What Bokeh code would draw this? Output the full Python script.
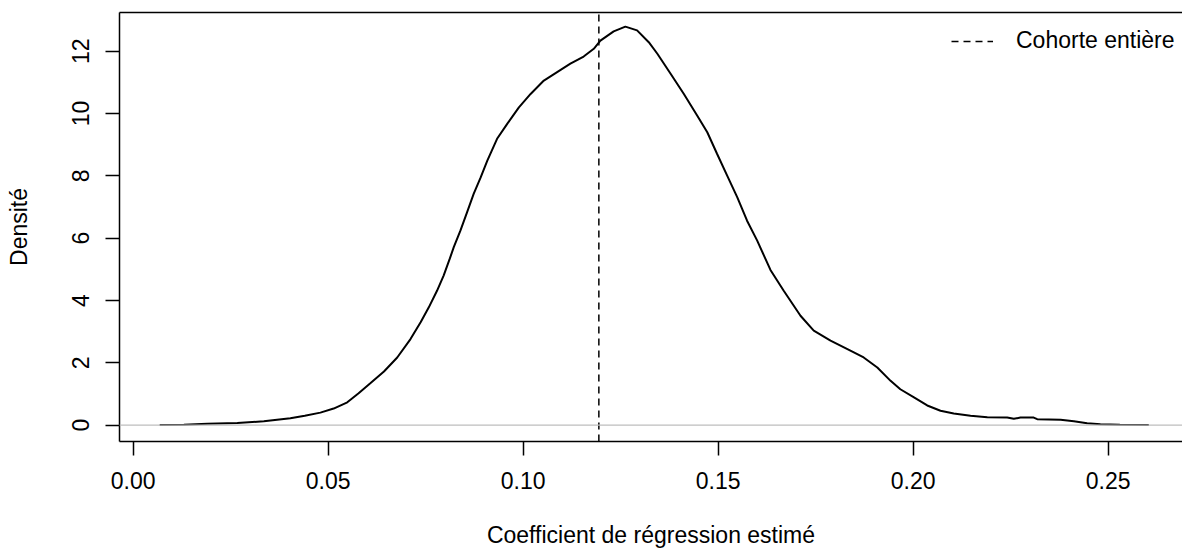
from bokeh.plotting import figure
from bokeh.models import Range1d, FixedTicker, PrintfTickFormatter, Span, Legend, LegendItem, LinearAxis
from bokeh.embed import file_html
from bokeh.resources import INLINE

# Estimated regression coefficient (x) and kernel density (y)
coef = [0.0068, 0.0130, 0.0190, 0.0267, 0.0335, 0.0403, 0.0440, 0.0480, 0.0514, 0.0549,
        0.0578, 0.0608, 0.0643, 0.0677, 0.0711, 0.0737, 0.0758, 0.0779, 0.0796, 0.0812,
        0.0822, 0.0839, 0.0856, 0.0873, 0.0891, 0.0908, 0.0933, 0.0959, 0.0989, 0.1019,
        0.1053, 0.1087, 0.1121, 0.1155, 0.1181, 0.1198, 0.1232, 0.1262, 0.1292, 0.1322,
        0.1344, 0.1378, 0.1412, 0.1446, 0.1472, 0.1497, 0.1523, 0.1549, 0.1574, 0.1600,
        0.1634, 0.1668, 0.1711, 0.1745, 0.1788, 0.1839, 0.1873, 0.1908, 0.1942, 0.1967,
        0.2002, 0.2036, 0.2070, 0.2104, 0.2147, 0.2190, 0.2241, 0.2258, 0.2275, 0.2309,
        0.2318, 0.2378, 0.2412, 0.2446, 0.2480, 0.2530, 0.2604]
density = [0.00, 0.01, 0.04, 0.07, 0.12, 0.22, 0.30, 0.40, 0.53, 0.73,
           1.02, 1.34, 1.72, 2.17, 2.76, 3.30, 3.78, 4.31, 4.80, 5.35,
           5.71, 6.24, 6.83, 7.42, 7.95, 8.49, 9.19, 9.67, 10.20, 10.63,
           11.06, 11.33, 11.60, 11.83, 12.08, 12.34, 12.64, 12.79, 12.67, 12.29,
           11.92, 11.28, 10.63, 9.94, 9.40, 8.71, 8.01, 7.31, 6.56, 5.92,
           4.98, 4.31, 3.51, 3.03, 2.71, 2.39, 2.17, 1.85, 1.42, 1.15,
           0.89, 0.63, 0.46, 0.37, 0.30, 0.25, 0.24, 0.20, 0.24, 0.24,
           0.19, 0.17, 0.12, 0.06, 0.03, 0.01, 0.00]
cohort_value = 0.1194
legend_label = "Cohorte entière"
x_ticks = [0.00, 0.05, 0.10, 0.15, 0.20, 0.25]
y_ticks = [0, 2, 4, 6, 8, 10, 12]
x_title = "Coefficient de régression estimé"
y_title = "Densité"

FONT = "Liberation Sans"
FS = "23px"

p = figure(width=1182, height=556, output_backend="svg", toolbar_location=None,
           x_range=Range1d(-0.00351, 0.26905), y_range=Range1d(-0.527, 13.244),
           min_border_left=119, min_border_right=0, min_border_top=12, min_border_bottom=115)
p.xgrid.visible = False
p.ygrid.visible = False
p.outline_line_color = None
p.background_fill_color = "white"
p.border_fill_color = "white"

xb = p.below[0]
yl = p.left[0]

for ax in (xb, yl):
    ax.axis_line_color = "black"
    ax.axis_line_width = 1.5
    ax.major_tick_line_color = "black"
    ax.major_tick_line_width = 1.5
    ax.major_tick_in = 0
    ax.major_tick_out = 14
    ax.minor_tick_line_color = None
    ax.major_label_text_font = FONT
    ax.major_label_text_font_size = FS
    ax.major_label_text_color = "black"
    ax.axis_label_text_font = FONT
    ax.axis_label_text_font_size = FS
    ax.axis_label_text_font_style = "normal"
    ax.axis_label_text_color = "black"

xb.ticker = FixedTicker(ticks=x_ticks)
xb.formatter = PrintfTickFormatter(format="%.2f")
xb.axis_label = x_title
xb.major_label_standoff = 16
xb.axis_label_standoff = 30

yl.ticker = FixedTicker(ticks=y_ticks)
yl.formatter = PrintfTickFormatter(format="%d")
yl.major_label_orientation = "vertical"
yl.axis_label = y_title
yl.major_label_standoff = 16
yl.axis_label_standoff = 38

# top side of the box (the right side is cut off in the reference)
top = LinearAxis(axis_line_color="black", axis_line_width=1.5,
                 major_tick_line_color=None, minor_tick_line_color=None,
                 major_tick_in=0, major_tick_out=0, major_label_standoff=0,
                 major_label_text_font_size="0px", major_label_text_alpha=0,
                 ticker=FixedTicker(ticks=[]))
p.add_layout(top, "above")

p.line(coef, density, line_color="black", line_width=2)

vline = p.line([cohort_value, cohort_value], [p.y_range.start, p.y_range.end],
               line_color="black", line_width=1.5, line_dash="7 5")

zero = Span(location=0, dimension="width", line_color="#BEBEBE", line_width=1.2)
p.add_layout(zero)

legend = Legend(items=[LegendItem(label=legend_label, renderers=[vline])],
                location=(832, 387), padding=0, margin=0, spacing=0,
                glyph_width=42, glyph_height=20, label_standoff=23,
                label_text_font=FONT, label_text_font_size=FS, label_text_color="black",
                border_line_color=None, background_fill_alpha=0)
p.add_layout(legend)

html = file_html(p, INLINE)
html = html.replace("<head>", "<head><style>html,body{margin:0;padding:0;overflow:hidden}</style>", 1)
open("out.html", "w").write(html)
